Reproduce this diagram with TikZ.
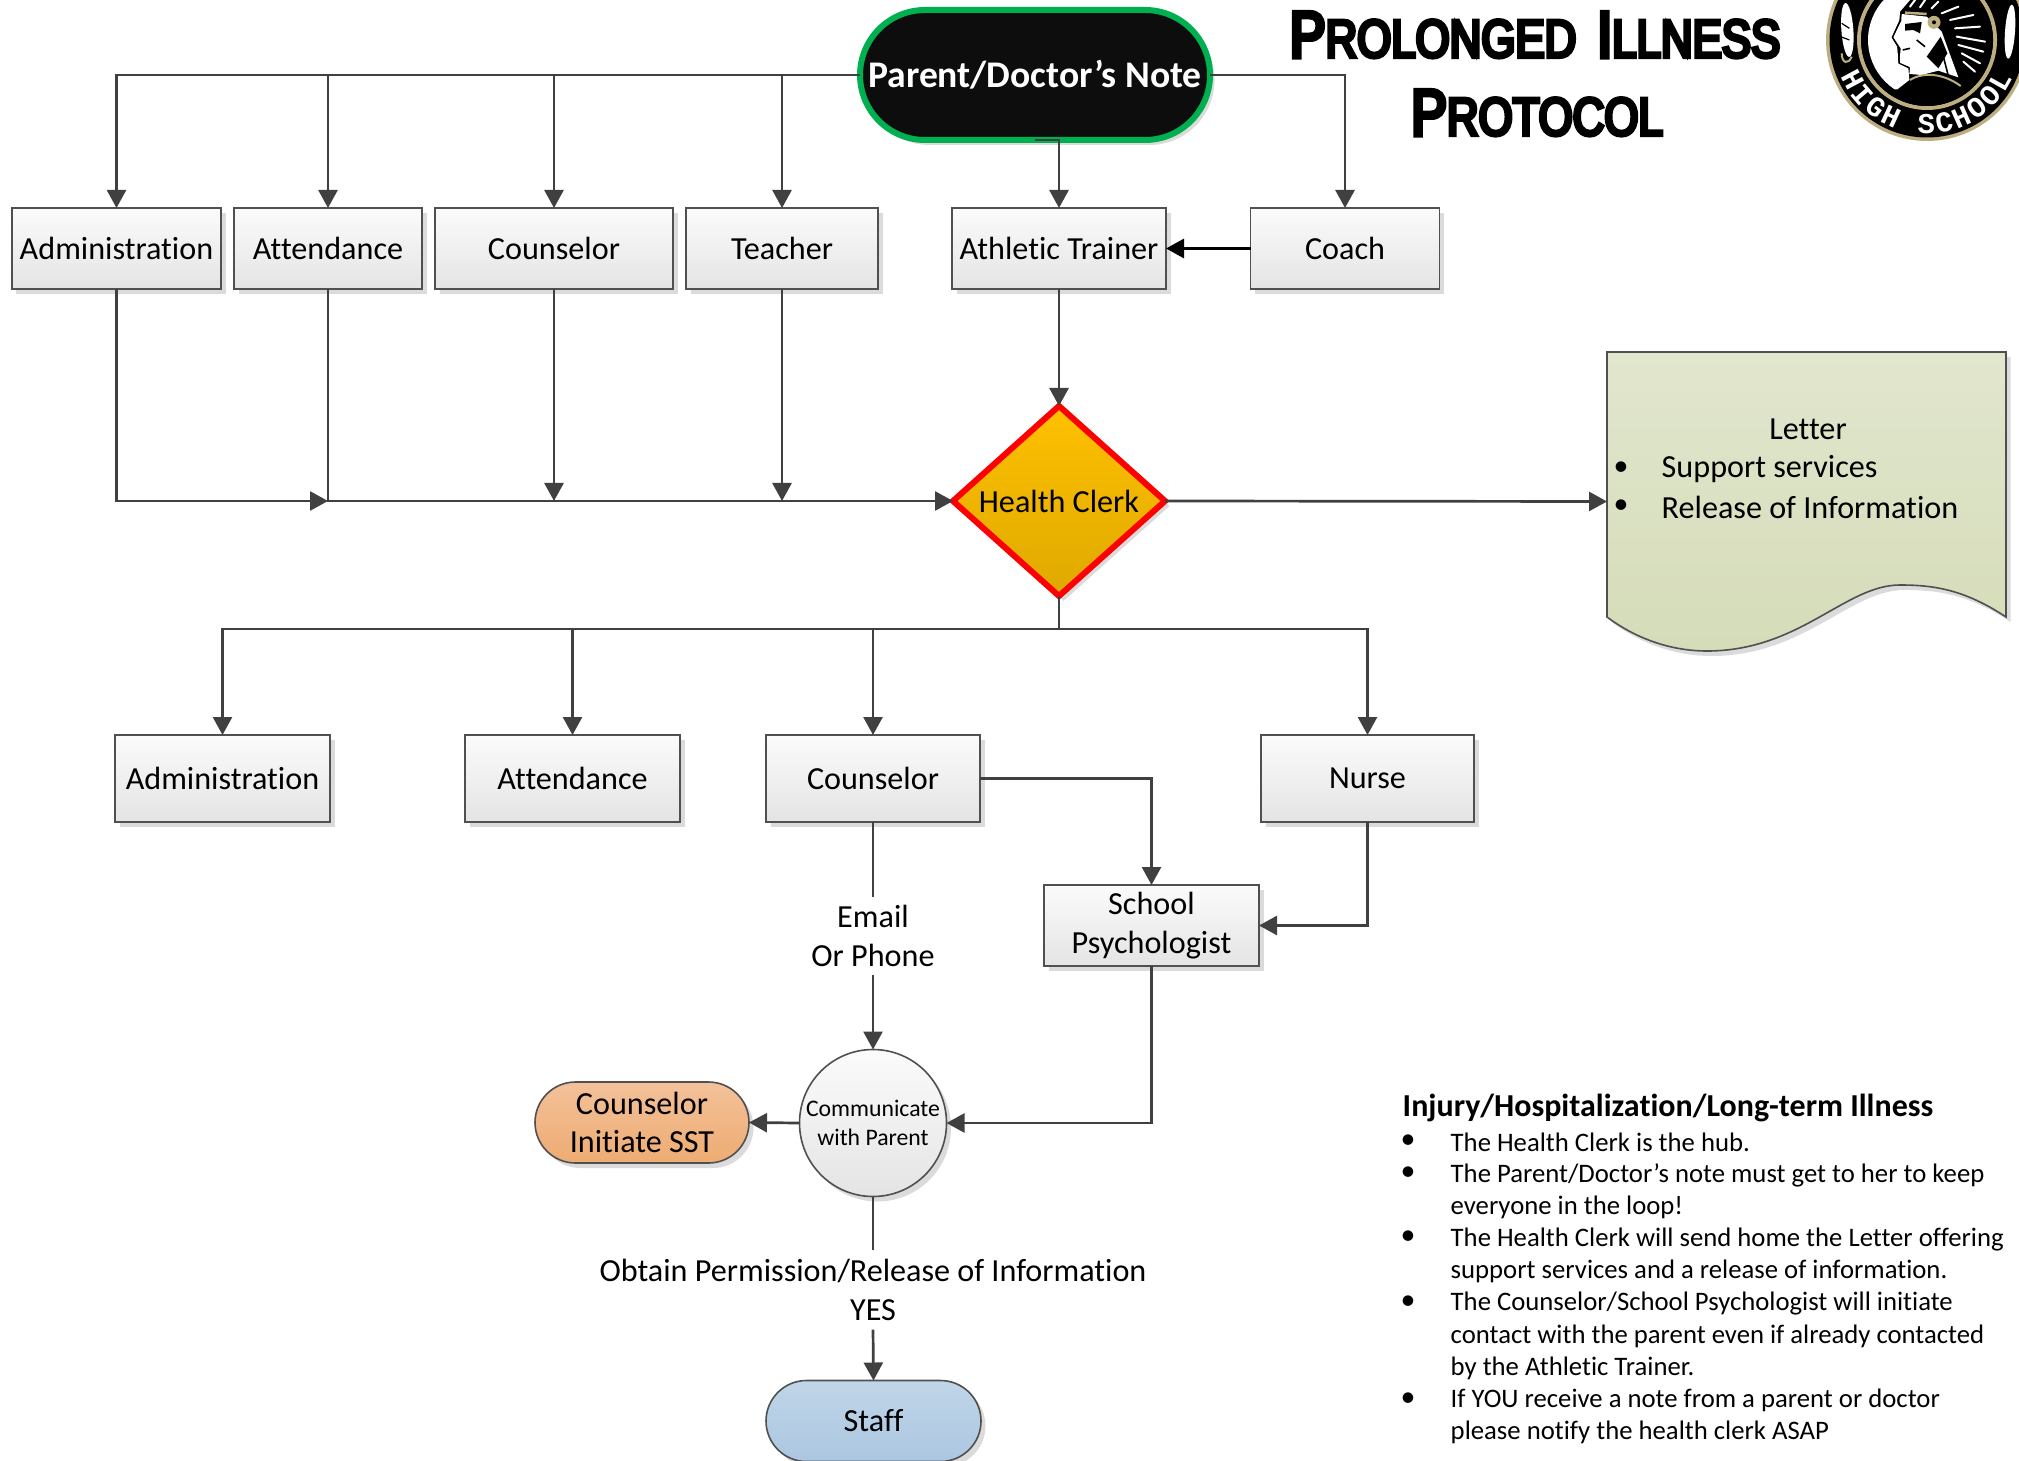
\documentclass[tikz,border=0pt]{standalone}
\usepackage{fontspec}
\setmainfont{Carlito}[Ligatures=NoCommon]
\newfontfamily\titlefont[FakeStretch=0.82,FakeBold=7]{Liberation Sans}
\newfontfamily\logofont{Liberation Mono}
\usetikzlibrary{arrows.meta,positioning,shapes.geometric,shapes.misc,shadows,decorations.text}
\definecolor{linecol}{HTML}{404040}
\definecolor{boxedge}{HTML}{505050}
\definecolor{boxtop}{HTML}{FBFBFB}
\definecolor{boxbot}{HTML}{E4E4E4}
\definecolor{logogold}{HTML}{BDAE82}
\definecolor{notegreen}{HTML}{00B050}
\definecolor{notefill}{HTML}{0D0D0D}
\definecolor{clerktop}{HTML}{FFC000}
\definecolor{clerkbot}{HTML}{DEA900}
\definecolor{lettertop}{HTML}{E1E6CE}
\definecolor{letterbot}{HTML}{D5DCB8}
\definecolor{ssttop}{HTML}{F3C199}
\definecolor{sstbot}{HTML}{EEAC72}
\definecolor{stafftop}{HTML}{C0D5E8}
\definecolor{staffbot}{HTML}{ABC7E1}
\newcommand{\titlebig}[1]{{\fontsize{18.6}{20}\selectfont #1}}
\newcommand{\titlesmall}[1]{{\fontsize{15.2}{20}\selectfont #1}}
\tikzset{
  softshadow/.style={drop shadow={shadow xshift=.045cm,shadow yshift=-.05cm,opacity=.14,fill=black}},
  flowbox/.style={rectangle,draw=boxedge,line width=.016cm,top color=boxtop,bottom color=boxbot,
    minimum height=.81cm,inner sep=0pt,outer sep=0pt,align=center,softshadow,
    font=\fontsize{9.15}{11}\selectfont},
  pill/.style={flowbox,rounded rectangle,rounded rectangle arc length=180},
  conn/.style={draw=linecol,line width=.027cm,-{Triangle[length=.18cm,width=.19cm]}},
  plainline/.style={draw=linecol,line width=.027cm},
  plaintext/.style={inner sep=0pt,align=center,font=\fontsize{9.15}{11}\selectfont},
  listline/.style={anchor=west,inner sep=0pt,align=left,font=\fontsize{7.6}{9.15}\selectfont},
  listdot/.style={inner sep=0pt,font=\fontsize{8.5}{9}\selectfont},
}
\begin{document}
\begin{tikzpicture}
\useasboundingbox (0,0) rectangle (20.19,14.6);
% title and badge
\node[inner sep=0pt] (titleA) at (15.35,14.25) {\titlefont\titlebig{P}\titlesmall{ROLONGED}\hspace{.13cm} \titlebig{I}\titlesmall{LLNESS}};
\node[inner sep=0pt] (titleB) at (15.37,13.47) {\titlefont\titlebig{P}\titlesmall{ROTOCOL}};
\begin{scope}
\clip (18,13) rectangle (20.19,14.6);
\coordinate (badge) at (19.27,14.2);
\fill[logogold] (badge) circle (1.01);
\fill[black] (badge) circle (.975);
\begin{scope}[shift={(18.10,14.6)},x=1cm/300,y=-1cm/300]
  % side feathers
  \fill[white,rotate around={4:(112,90)}] (112,90) ellipse (.06cm and .27cm);
  \fill[white,rotate around={-4:(600,95)}] (600,95) ellipse (.05cm and .27cm);
  \draw[black,line width=.012cm] (95,70) -- (118,85) (92,110) -- (118,120);
  \draw[logogold,line width=.02cm] (95,160) .. controls (95,190) and (115,195) .. (125,170);
\end{scope}
\draw[logogold,line width=.04cm] (badge) circle (.68);
\fill[black] (badge) circle (.66);
\begin{scope}
\clip (badge) circle (.59);
\begin{scope}[shift={(18.10,14.6)},x=1cm/300,y=-1cm/300]
  \fill[white] (100,-60) -- (300,-60) -- (300,0) -- (270,35) -- (268,60) -- (245,112) -- (262,140)
    -- (265,190) -- (295,205) -- (298,240) -- (262,268) -- (100,268) -- cycle;
  % headdress
  \foreach \xa/\ya/\xb/\yb in {300/20/315/0,330/22/345/0,365/25/385/5,395/40/445/20,420/60/490/45,
    435/85/510/80,440/110/525/125,445/135/520/155,455/160/510/190,460/185/495/215}
    \draw[white,line width=.02cm,line cap=round] (\xa,\ya) -- (\xb,\yb);
  % face and neck
  \fill[white] (275,42) -- (350,50) -- (395,95) -- (415,150) -- (445,232) -- (385,212) -- (335,225)
    -- (298,222) -- (300,203) -- (268,190) -- (272,145) -- (250,112) -- (272,62) -- cycle;
  \draw[black,line width=.012cm] (272,42) -- (272,62) -- (247,112) -- (264,140) -- (268,190) -- (298,203);
  \fill[black] (285,72) -- (335,66) -- (330,100) -- (310,90) -- (285,92) -- cycle;
  \draw[black,line width=.016cm] (278,150) -- (300,145) (320,120) -- (345,140) (400,170) -- (415,228);
  \fill[black] (350,170) -- (392,110) -- (412,160) -- (385,205) -- cycle;
  \draw[logogold,line width=.025cm] (285,38) -- (350,42);
  \fill[logogold] (372,67) circle (.065cm);
  \fill[black] (372,67) circle (.02cm);
  \draw[logogold,line width=.02cm] (300,240) .. controls (340,215) and (400,220) .. (452,258);
\end{scope}
\end{scope}
\path[decorate,decoration={text along path,text align={fit to path},
  text={|\logofont\bfseries\fontsize{8.2}{10}\selectfont\color{white}|HIGH SCHOOL}}]
  (badge) ++(203:.94) arc[start angle=203,end angle=336,radius=.94];
\end{scope}
% first row
\node[pill,draw=notegreen,line width=.06cm,top color=notefill,bottom color=notefill,text=white,
  minimum width=3.5cm,minimum height=1.3cm,font=\fontsize{10.7}{12}\bfseries\selectfont] (note) at (10.35,13.85) {Parent/Doctor’s Note};
\node[flowbox,minimum width=2.09cm] (adminA) at (1.165,12.115) {Administration};
\node[flowbox,minimum width=1.88cm] (attendA) at (3.28,12.115) {Attendance};
\node[flowbox,minimum width=2.38cm] (counselA) at (5.54,12.115) {Counselor};
\node[flowbox,minimum width=1.92cm] (teacher) at (7.82,12.115) {Teacher};
\node[flowbox,minimum width=2.14cm] (trainer) at (10.59,12.115) {Athletic Trainer};
\node[flowbox,minimum width=1.89cm] (coach) at (13.45,12.115) {Coach};
% hub and letter
\node[diamond,draw=red,line width=.06cm,top color=clerktop,bottom color=clerkbot,
  inner sep=0pt,outer sep=0pt,minimum width=2.12cm,minimum height=1.9cm,softshadow,
  font=\fontsize{9.15}{11}\selectfont] (clerk) at (10.59,9.59) {Health Clerk};
\path[draw=boxedge,line width=.016cm,top color=lettertop,bottom color=letterbot,softshadow]
  (16.07,11.08) -- (20.06,11.08) -- (20.06,8.43) .. controls (19.65,8.70) and (19.35,8.75) .. (19.00,8.75)
  .. controls (18.45,8.75) and (18.00,8.09) .. (17.07,8.09) .. controls (16.70,8.09) and (16.35,8.22) .. (16.07,8.43) -- cycle;
\node[minimum width=3.99cm,minimum height=2.99cm,inner sep=0pt,outer sep=0pt] (letter) at (18.065,9.585) {};
\node[plaintext] (lettertitle) at (18.08,10.31) {Letter};
\node[listdot] (dotA) at (16.21,9.91) {•};
\node[plaintext,anchor=west] (support) at (16.61,9.91) {Support services};
\node[listdot] (dotB) at (16.21,9.53) {•};
\node[plaintext,anchor=west] (release) at (16.61,9.53) {Release of Information};
% second row
\node[flowbox,minimum width=2.15cm,minimum height=.87cm] (adminB) at (2.225,6.815) {Administration};
\node[flowbox,minimum width=2.15cm,minimum height=.87cm] (attendB) at (5.725,6.815) {Attendance};
\node[flowbox,minimum width=2.14cm,minimum height=.87cm] (counselB) at (8.73,6.815) {Counselor};
\node[flowbox,minimum width=2.13cm,minimum height=.87cm] (nurse) at (13.675,6.815) {Nurse};
\node[flowbox,minimum width=2.15cm,text depth=.06cm] (psych) at (11.515,5.345) {School\\Psychologist};
\node[plaintext,minimum height=.77cm] (email) at (8.73,5.24) {Email\\Or Phone};
\node[circle,draw=boxedge,line width=.016cm,top color=boxtop,bottom color=boxbot,inner sep=0pt,outer sep=0pt,
  minimum size=1.47cm,align=center,softshadow,font=\fontsize{6.75}{8.2}\selectfont] (parent) at (8.73,3.37) {Communicate\\with Parent};
\node[pill,top color=ssttop,bottom color=sstbot,minimum width=2.14cm] (sst) at (6.42,3.375) {Counselor\\Initiate SST};
\node[plaintext,minimum height=.78cm] (obtain) at (8.73,1.70) {Obtain Permission/Release of Information\\YES};
\node[pill,top color=stafftop,bottom color=staffbot,minimum width=2.15cm] (staff) at (8.735,.39) {Staff};
% notes
\node[listline,font=\fontsize{9.1}{10}\bfseries\selectfont] (heading) at (14.02,3.52) {Injury/Hospitalization/Long-term Illness};
\node[listline] (itemA) at (14.5,3.18) {The Health Clerk is the hub.};
\node[listline] (itemB) at (14.5,2.69) {The Parent/Doctor’s note must get to her to keep\\everyone in the loop!};
\node[listline] (itemC) at (14.5,2.05) {The Health Clerk will send home the Letter offering\\support services and a release of information.};
\node[listline] (itemD) at (14.5,1.24) {The Counselor/School Psychologist will initiate\\contact with the parent even if already contacted\\by the Athletic Trainer.};
\node[listline] (itemE) at (14.5,.44) {If YOU receive a note from a parent or doctor\\please notify the health clerk ASAP};
\node[listdot] (dotC) at (14.08,3.18) {•};
\node[listdot] (dotD) at (14.08,2.86) {•};
\node[listdot] (dotE) at (14.08,2.22) {•};
\node[listdot] (dotF) at (14.08,1.57) {•};
\node[listdot] (dotG) at (14.08,.60) {•};
% connectors
\coordinate (junction) at (3.28,9.59);
\coordinate (bus) at (10.59,8.31);
\draw[conn] (note.west) -| (adminA.north);
\draw[conn] (note.west) -| (attendA.north);
\draw[conn] (note.west) -| (counselA.north);
\draw[conn] (note.west) -| (teacher.north);
\draw[conn] (note.east) -| (coach.north);
\draw[conn] (note.south) -| (trainer.north);
\draw[conn,draw=black,line width=.03cm] (coach.west) -- (trainer.east);
\draw[conn] (trainer.south) -- (clerk.north);
\draw[conn] (adminA.south) |- (junction);
\draw[conn] (attendA.south) |- (clerk.west);
\draw[conn] (counselA.south) -- (counselA.south |- clerk.west);
\draw[conn] (teacher.south) -- (teacher.south |- clerk.west);
\draw[conn] (clerk.east) -- (letter.west);
\draw[plainline] (clerk.south) -- (bus);
\draw[conn] (bus) -| (adminB.north);
\draw[conn] (bus) -| (attendB.north);
\draw[conn] (bus) -| (counselB.north);
\draw[conn] (bus) -| (nurse.north);
\draw[conn] (counselB.east) -| (psych.north);
\draw[conn] (nurse.south) |- (psych.east);
\draw[conn] (psych.south) |- (parent.east);
\draw[plainline] (counselB.south) -- (email.north);
\draw[conn] (email.south) -- (parent.north);
\draw[conn] (parent.west) -- (sst.east);
\draw[plainline] (parent.south) -- (obtain.north);
\draw[conn] (obtain.south) -- (staff.north);
\end{tikzpicture}
\end{document}
